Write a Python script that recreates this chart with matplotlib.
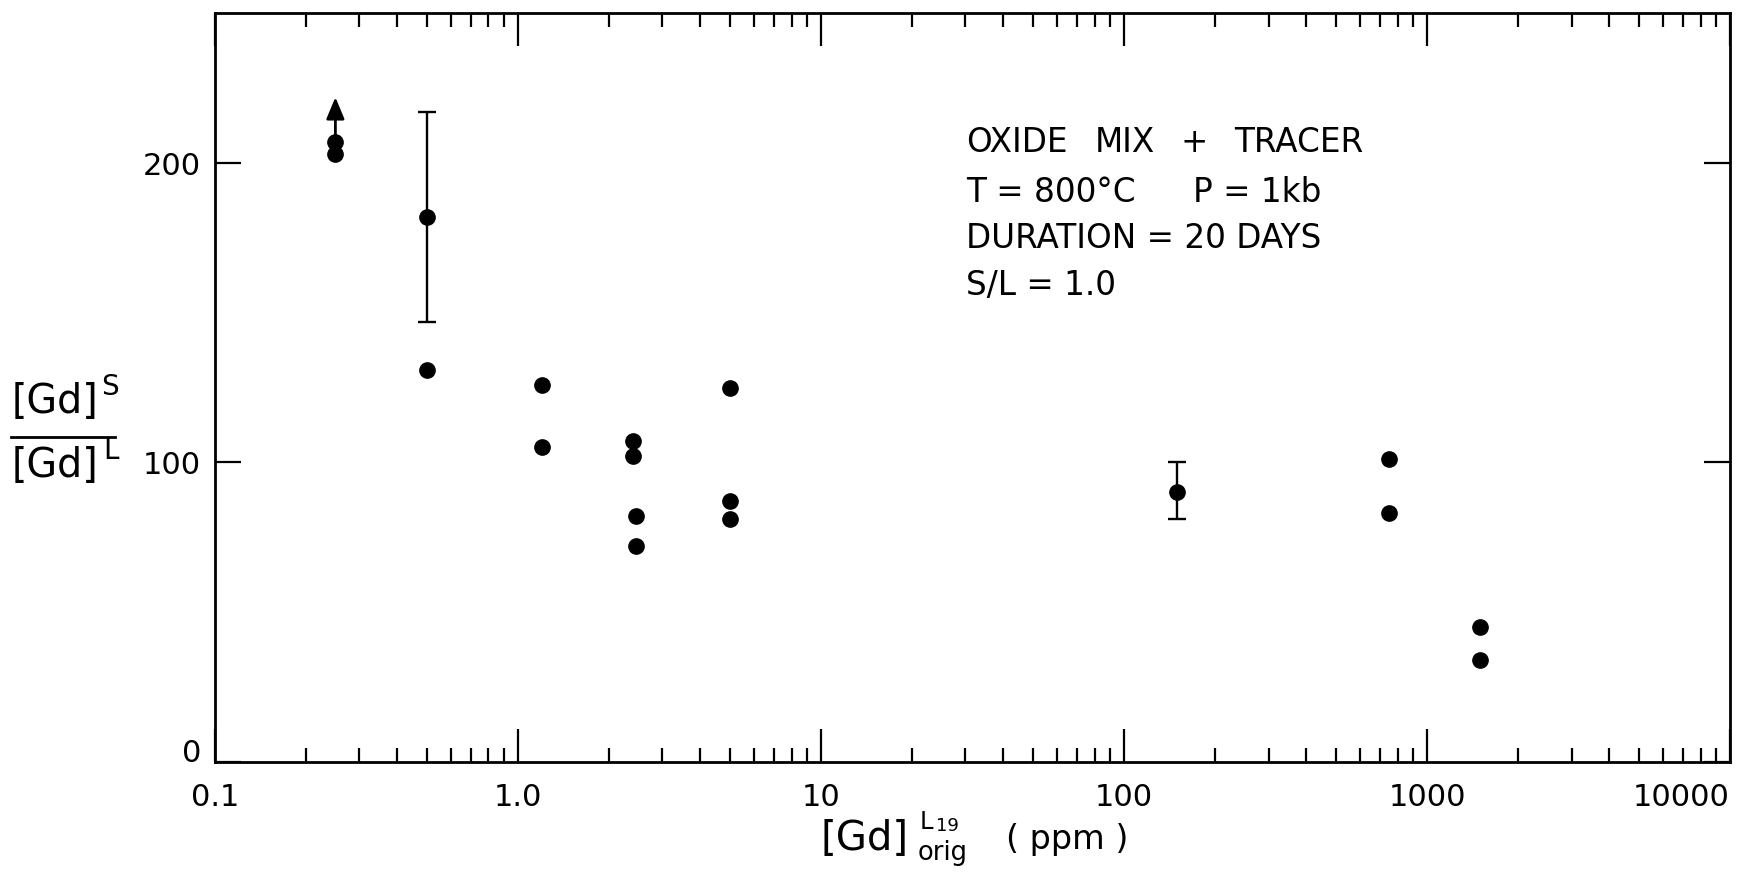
import matplotlib
matplotlib.use("Agg")
import matplotlib.pyplot as plt
from matplotlib.ticker import LogLocator, FixedLocator, FixedFormatter, NullFormatter
from matplotlib.lines import Line2D

# Partition data: Gd solid/liquid ratio versus original Gd in liquid
gd_orig_ppm = [0.25, 0.25, 0.5, 0.5, 1.2, 1.2, 2.4, 2.4, 2.45, 2.45,
               5.0, 5.0, 5.0, 150, 750, 750, 1500, 1500]
gd_ratio = [207, 203, 182, 131, 126, 105, 107, 102, 82, 72,
            125, 87, 81, 90, 101, 83, 45, 34]

# Points carrying error bars (value, lower end, upper end)
err_x = [0.5, 150]
err_y = [182, 90]
err_low = [147, 81]
err_high = [217, 100]

# Lower-limit arrow
limit_x = 0.25
limit_from = 207
limit_to = 222

x_ticks = [0.1, 1.0, 10, 100, 1000, 10000]
x_tick_labels = ["0.1", "1.0", "10", "100", "1000", "10000"]
y_ticks = [0, 100, 200]
y_tick_labels = ["0", "100", "200"]

# Run conditions, one list of word groups per line
notes = [["OXIDE", "MIX", "+", "TRACER"],
         ["T = 800\u00b0C", "P = 1kb"],
         ["DURATION = 20 DAYS"],
         ["S/L = 1.0"]]
note_x = [[966, 1095, 1180, 1234],
          [966, 1193],
          [966],
          [966]]
note_y = [143, 192, 239, 286]

W, H = 1754, 875
fig = plt.figure(figsize=(W / 100, H / 100), dpi=100)
fig.patch.set_facecolor("white")

left, right, top, bottom = 214.8, 1730.0, 13.4, 761.8
ax = fig.add_axes([left / W, 1 - bottom / H, (right - left) / W, (bottom - top) / H])

ax.set_xscale("log")
ax.set_xlim(0.1, 10000)
ax.set_ylim(0, 250)

ax.plot(gd_orig_ppm, gd_ratio, "o", ms=11, color="black", zorder=3)
yerr = [[v - lo for v, lo in zip(err_y, err_low)], [hi - v for v, hi in zip(err_y, err_high)]]
ax.errorbar(err_x, err_y, yerr=yerr, fmt="none", ecolor="black", elinewidth=1.7,
            capsize=6.5, capthick=1.7, zorder=2)
ax.annotate("", xy=(limit_x, limit_to), xytext=(limit_x, limit_from),
            arrowprops=dict(arrowstyle="-|>,head_length=0.6,head_width=0.25",
                            lw=2.0, color="black", mutation_scale=22,
                            shrinkA=0, shrinkB=0))

for s in ax.spines.values():
    s.set_linewidth(2.0)

ax.xaxis.set_major_locator(FixedLocator(x_ticks))
ax.xaxis.set_major_formatter(FixedFormatter(x_tick_labels))
ax.xaxis.set_minor_locator(LogLocator(base=10, subs=range(2, 10), numticks=20))
ax.xaxis.set_minor_formatter(NullFormatter())
ax.yaxis.set_major_locator(FixedLocator(y_ticks))
ax.yaxis.set_major_formatter(FixedFormatter(y_tick_labels))

ax.tick_params(axis="x", which="major", direction="in", length=24, width=1.6,
               top=True, bottom=True, labelsize=22, pad=15)
ax.tick_params(axis="x", which="minor", direction="in", length=10, width=1.6,
               top=True, bottom=True)
ax.tick_params(axis="y", which="major", direction="in", length=19, width=1.6,
               left=True, right=True, labelsize=22, pad=10)

fig.canvas.draw()
xlabels = ax.get_xticklabels()
xlabels[-1].set_horizontalalignment("right")
ylabels = ax.get_yticklabels()
ylabels[0].set_verticalalignment("baseline")


def ftxt(x, y, s, size, **kw):
    fig.text(x / W, 1 - y / H, s, fontsize=size, ha="left", va="center", **kw)


for words, xs, y in zip(notes, note_x, note_y):
    for w, x in zip(words, xs):
        ftxt(x, y, w, 23.5)

# y-axis label: [Gd]^S / [Gd]^L
ftxt(12, 402, "[Gd]", 28.5)
ftxt(101, 387, "S", 20)
ftxt(12, 466, "[Gd]", 28.5)
ftxt(103, 451, "L", 20)
fig.add_artist(Line2D([11 / W, 115 / W], [1 - 437 / H, 1 - 437 / H],
                      color="black", lw=2.0))

# x-axis label: [Gd] with L19 over orig, then (ppm)
ftxt(820, 839, "[Gd]", 29)
ftxt(920, 822, "L", 17.5)
ftxt(936, 826, "19", 13)
ftxt(918, 853, "orig", 18.5)
ftxt(1006, 839, "( ppm )", 24)

fig.savefig("out.png", dpi=100, facecolor="white")
